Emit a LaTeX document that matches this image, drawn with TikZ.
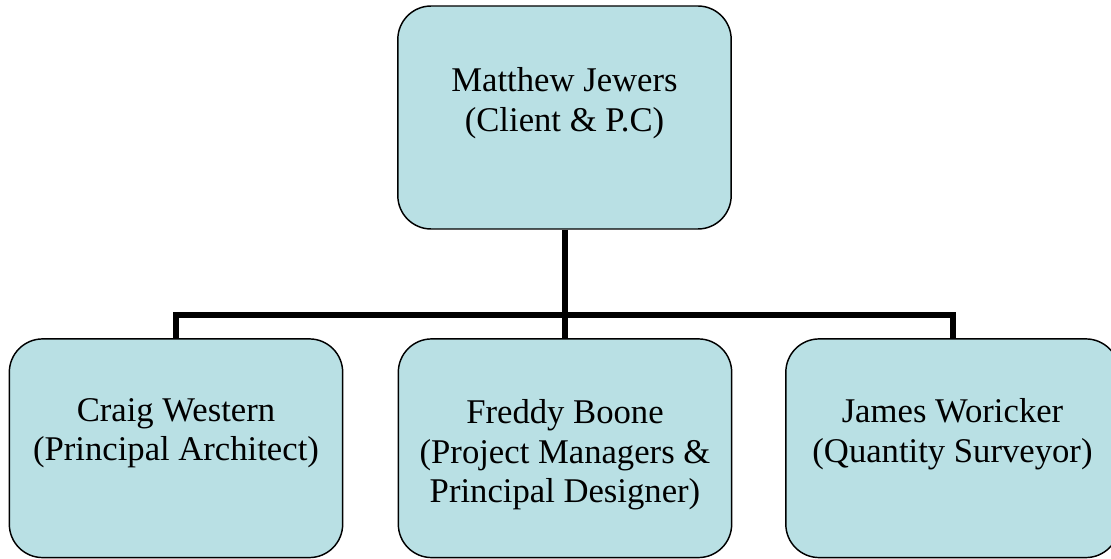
\documentclass[tikz,border=0pt]{standalone}
\usepackage{fontspec}
\setmainfont{Liberation Serif}
\definecolor{boxfill}{HTML}{B9E0E4}
\begin{document}
\begin{tikzpicture}[x=0.75pt,y=-0.75pt,
  box/.style={draw=black, line width=1.1pt, fill=boxfill, rounded corners=25pt,
    minimum width=250pt, minimum height=164pt, inner sep=0pt},
  lbl/.style={font=\fontsize{26}{29.6}\selectfont, align=center, inner sep=0pt, anchor=north},
  conn/.style={line width=4.5pt}]
\useasboundingbox (0,0) rectangle (1111,559);
\clip (0,0) rectangle (1111,559);
\node[box, minimum height=167.25pt] (mj) at (564.5,117.5) {};
\node[box] (cw) at (176,448.25) {};
\node[box] (fb) at (565,448.25) {};
\node[box] (jw) at (952.5,448.25) {};
\node[lbl] (mjt) at (564.5,67.3) {Matthew Jewers\\(Client \& P.C)};
\node[lbl] (cwt) at (176,398.3) {Craig Western\\(Principal Architect)};
\node[lbl] (fbt) at (565,399.6) {Freddy Boone\\(Project Managers \&\\Principal Designer)};
\node[lbl] (jwt) at (952.5,398.3) {James Woricker\\(Quantity Surveyor)};
\coordinate (hub) at (564.7,315.3);
\draw[conn] (hub |- mj.south) -- (hub);
\draw[conn] (cw.north) -- (cw.north |- hub) -- (jw.north |- hub) -- (jw.north);
\draw[conn] (hub) -- (hub |- fb.north);
\end{tikzpicture}
\end{document}
